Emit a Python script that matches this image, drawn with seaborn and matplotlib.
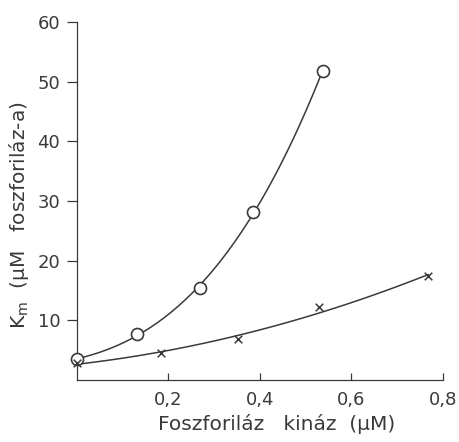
import numpy as np
import pandas as pd
import seaborn as sns
import matplotlib.pyplot as plt

# a kör jelű sorozat (felső görbe)
kor_x = [0.0, 0.132, 0.27, 0.385, 0.537]
kor_y = [3.5, 7.8, 15.5, 28.2, 51.8]

# a kereszt jelű sorozat (alsó görbe)
kereszt_x = [0.0, 0.185, 0.353, 0.53, 0.768]
kereszt_y = [2.9, 4.5, 6.9, 12.2, 17.4]

x_ticks = [0.2, 0.4, 0.6, 0.8]
x_labels = ["0,2", "0,4", "0,6", "0,8"]
y_ticks = [10, 20, 30, 40, 50, 60]

df_kor = pd.DataFrame({"x": kor_x, "y": kor_y})
df_ker = pd.DataFrame({"x": kereszt_x, "y": kereszt_y})

sns.set_style("ticks")
plt.rcParams['font.family'] = ['DejaVu Sans']
ink = "#3a3a3a"

fig = plt.figure(figsize=(4.6, 4.42), dpi=100)
ax = fig.add_axes([0.167, 0.140, 0.796, 0.810])

# simított görbék (polinom illesztés)
sns.regplot(data=df_kor, x="x", y="y", order=3, ci=None, scatter=False,
            truncate=True, ax=ax, line_kws={"color": ink, "lw": 1.1})
sns.regplot(data=df_ker, x="x", y="y", order=2, ci=None, scatter=False,
            truncate=True, ax=ax, line_kws={"color": ink, "lw": 1.1})

sns.scatterplot(data=df_kor, x="x", y="y", marker="o", s=75,
                facecolor="white", edgecolor=ink, linewidth=1.2, ax=ax,
                zorder=5, clip_on=False)
sns.scatterplot(data=df_ker, x="x", y="y", marker="x", s=30,
                color=ink, linewidth=1.1, ax=ax, zorder=5, clip_on=False)

ax.set_xlim(0, 0.8)
ax.set_ylim(0, 60)
ax.set_xticks(x_ticks)
ax.set_xticklabels(x_labels)
ax.set_yticks(y_ticks)
ax.tick_params(axis="x", direction="in", length=5, width=0.9, colors=ink,
               labelsize=13, pad=8)
ax.tick_params(axis="y", direction="out", length=7, width=0.9, colors=ink,
               labelsize=13, pad=5)
for s in ["top", "right"]:
    ax.spines[s].set_visible(False)
for s in ["left", "bottom"]:
    ax.spines[s].set_color(ink)
    ax.spines[s].set_linewidth(0.9)

ax.set_xlabel("Foszforiláz   kináz  (μM)", fontsize=14.5, color=ink)
ax.xaxis.set_label_coords(0.546, -0.095)
ax.set_ylabel("K$_\\mathregular{m}$  (μM   foszforiláz-a)", fontsize=14.5, color=ink)
ax.yaxis.set_label_coords(-0.125, 0.46)

fig.savefig("out.png", dpi=100)
